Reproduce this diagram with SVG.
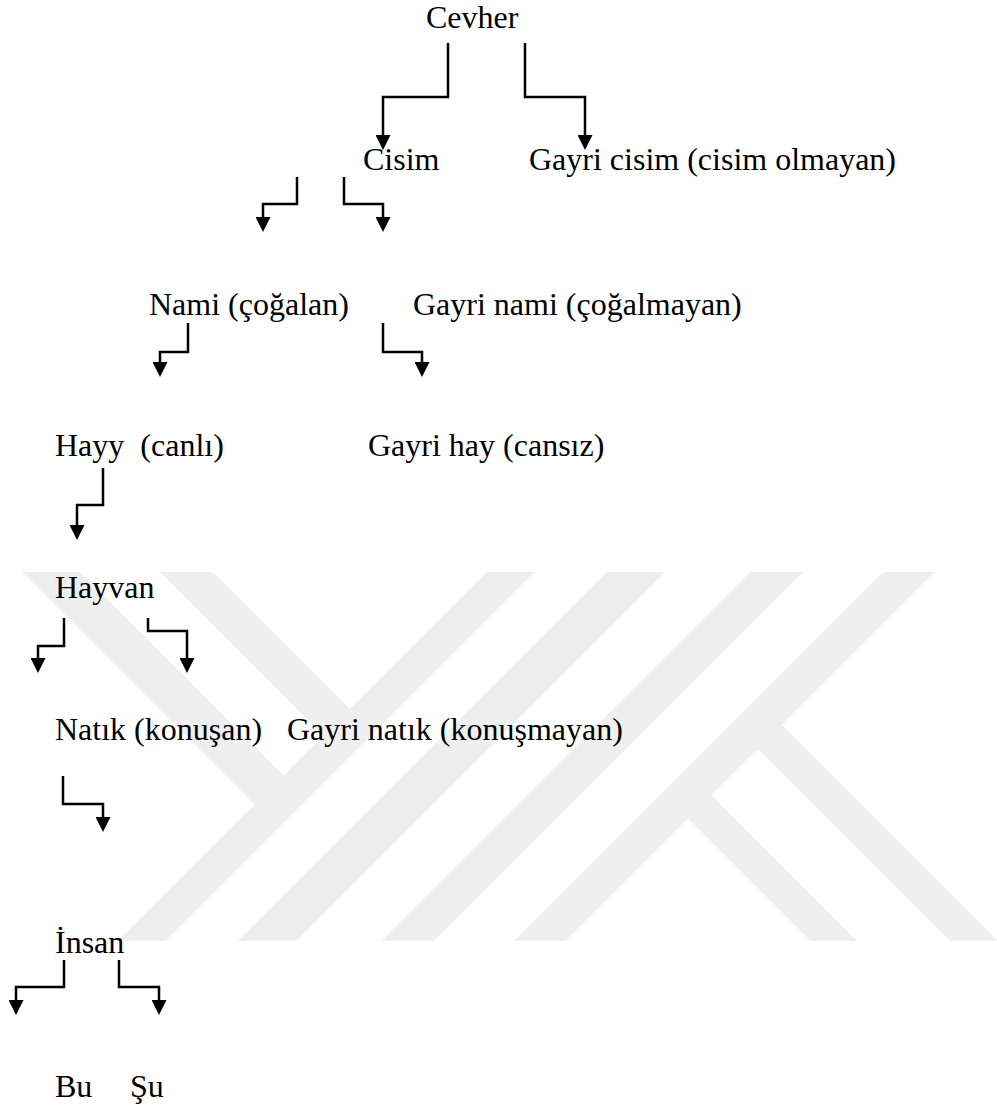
<svg xmlns="http://www.w3.org/2000/svg" width="997" height="1108" viewBox="0 0 997 1108">
<style>
text{font-family:"Liberation Serif","Times New Roman",serif;font-size:32px;fill:#000;white-space:pre}
.c{fill:none;stroke:#000;stroke-width:2.5;marker-end:url(#ah)}
.wm{fill:#efefef}
</style>
<defs>
<marker id="ah" viewBox="0 0 15 15" refX="7" refY="7.5" markerWidth="15" markerHeight="15" markerUnits="userSpaceOnUse" orient="auto">
<path d="M0,0 L15,7.5 L0,15 z" fill="#000"/>
</marker>
</defs>
<rect width="997" height="1108" fill="#fff"/>
<g id="watermark">
<polygon class="wm" points="487,572 535,572 166,941 118,941"/>
<polygon class="wm" points="607,572 665,572 296,941 238,941"/>
<polygon class="wm" points="750,572 803,572 434,941 381,941"/>
<polygon class="wm" points="883,572 935,572 566,941 514,941"/>
<polygon class="wm" points="22,572 80,572 283.5,775.5 254.5,804.5"/>
<polygon class="wm" points="160,572 213,572 350,709 323.5,735.5"/>
<polygon class="wm" points="782,725 998,941 950,941 758,749"/>
<polygon class="wm" points="711.5,795.5 857,941 810,941 688,819"/>
</g>
<g id="connectors">
<path class="c" d="M448,43 V97 H383 V142"/>
<path class="c" d="M525,43 V97 H585 V142"/>
<path class="c" d="M297,177 V204 H263 V224"/>
<path class="c" d="M344,177 V204 H383 V224"/>
<path class="c" d="M188,323 V352 H160 V369"/>
<path class="c" d="M383,323 V352 H422 V369"/>
<path class="c" d="M103,468 V505 H77 V532"/>
<path class="c" d="M64,618 V646 H38 V665"/>
<path class="c" d="M148,618 V631 H187 V665"/>
<path class="c" d="M63,776 V804 H103 V824"/>
<path class="c" d="M64,960 V987 H16 V1007"/>
<path class="c" d="M119,960 V987 H159 V1007"/>
</g>
<g id="n-cevher"><text x="426" y="28">Cevher</text></g>
<g id="n-cisim"><text x="363" y="170">Cisim</text></g>
<g id="n-gayri-cisim"><text x="529" y="170">Gayri cisim (cisim olmayan)</text></g>
<g id="n-nami"><text x="149" y="315">Nami (çoğalan)</text></g>
<g id="n-gayri-nami"><text x="413" y="315">Gayri nami (çoğalmayan)</text></g>
<g id="n-hayy"><text x="55" y="456">Hayy  (canlı)</text></g>
<g id="n-gayri-hay"><text x="368" y="456">Gayri hay (cansız)</text></g>
<g id="n-hayvan"><text x="55" y="598">Hayvan</text></g>
<g id="n-natik"><text x="55" y="740">Natık (konuşan)</text></g>
<g id="n-gayri-natik"><text x="287" y="740">Gayri natık (konuşmayan)</text></g>
<g id="n-insan"><text x="55" y="953">İnsan</text></g>
<g id="n-bu"><text x="55" y="1097">Bu</text></g>
<g id="n-su"><text x="130" y="1097">Şu</text></g>
</svg>
